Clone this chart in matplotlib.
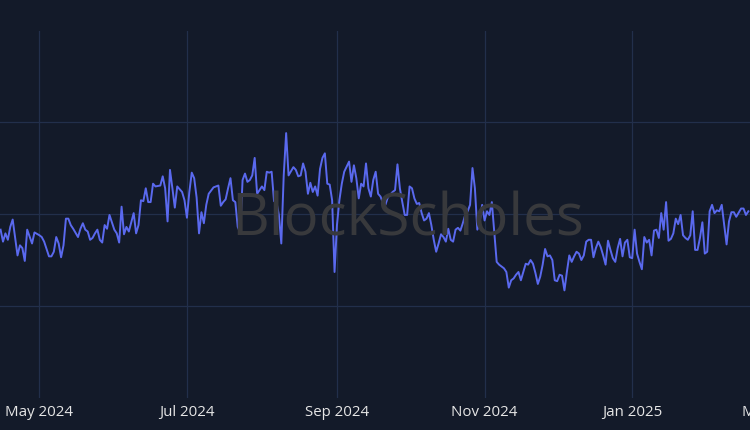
import numpy as np
import matplotlib
matplotlib.use("Agg")
import matplotlib.pyplot as plt
import matplotlib.dates as mdates

# daily series, days counted from start_date
start_date = np.datetime64("2024-04-15")

day_offset = [
    0, 1, 2, 3, 4, 5, 7, 8, 9, 10, 11, 13, 14, 16, 17, 18, 20, 21, 22, 23,
    24, 25, 26, 27, 28, 29, 30, 32, 33, 34, 35, 36, 37, 38, 39, 40, 41, 42, 43, 44,
    45, 47, 48, 49, 50, 51, 52, 53, 55, 56, 57, 58, 59, 60, 61,
    62, 63, 64, 66, 67, 68, 69, 70, 71, 72, 73, 75, 76, 77, 78, 79, 80, 81, 82, 83,
    84, 85, 86, 88, 89, 90, 91, 92, 93, 94, 95, 96, 97, 98, 99, 100, 101, 102, 103, 104,
    105, 106, 107, 108, 109, 110, 111, 112, 113, 114, 115, 116, 117, 118, 119, 121, 122, 123,
    124, 125, 126, 127, 128, 129, 130, 131, 132, 133, 134, 135, 136, 137, 138, 139, 140, 141,
    142, 144, 145, 146, 147, 148, 149, 150, 151, 152, 153, 154, 155, 156, 157, 158, 159, 160,
    162, 163, 164, 165, 166, 167, 168, 169, 170, 171, 172, 173, 174, 175, 176, 177, 178, 179,
    180, 181, 182, 183, 184, 185,
    186, 187, 188, 189, 190, 191, 192, 193, 194, 195, 196, 197, 198, 199, 200, 201, 202, 203,
    205, 206, 208, 209, 210, 211, 212, 213, 214, 215, 216, 217, 218, 219, 220, 221, 222, 223,
    224, 225, 226, 227, 228, 229, 230, 231, 232, 233, 234, 235, 236, 237, 238, 239, 240, 241,
    242, 243, 244, 245, 246, 247,
    248, 249, 250, 251, 252, 253, 254, 255, 256, 257, 258, 259, 260, 261, 262, 263, 264, 265,
    266, 267, 268, 269, 270, 271, 272, 273, 274, 275, 276, 277, 278, 279, 280, 281, 282, 283,
    284, 285, 286, 287, 288, 289, 290, 291, 292, 293, 294, 295, 296, 297, 298, 299, 300, 301,
    302, 303, 304, 306, 307, 308, 309,
]

value = [
    48.3, 47.0, 47.9, 47.2, 48.6, 49.4, 45.5, 46.6, 46.3, 44.9, 48.3, 46.8, 48.0, 47.7, 47.5, 47.0, 45.4, 45.4, 45.9, 47.5,
    46.8, 45.3, 46.6, 49.5, 49.5, 48.8, 48.4, 47.5, 48.4, 49.0, 48.3, 48.1, 47.2, 47.4, 47.9, 48.3, 47.2, 46.9, 48.8, 48.4,
    49.9, 48.3, 47.9, 46.9, 50.8, 47.8, 48.6, 48.1, 50.1, 47.9, 48.8, 51.5, 51.4, 52.8, 51.3,
    51.3, 53.3, 53.0, 53.1, 54.1, 52.8, 49.2, 54.8, 52.8, 50.7, 53.0, 52.4, 51.5, 49.6, 52.4, 54.5, 53.9, 51.8, 47.9, 50.2,
    49.0, 51.0, 52.2, 52.9, 53.0, 53.1, 50.9, 51.3, 51.6, 52.8, 53.9, 51.5, 51.3, 48.6, 48.0, 53.7, 54.4, 53.5, 53.7, 54.2,
    56.1, 52.2, 52.6, 53.0, 52.6, 54.6, 54.5, 54.6, 51.4, 51.3, 49.9, 46.8, 54.2, 58.8, 54.2, 55.1, 54.8, 54.1,
    54.2, 55.5, 54.6, 52.2, 53.4, 52.4, 53.0, 52.0, 54.9, 56.1, 56.6, 53.3, 53.2, 51.5, 43.7, 48.8, 51.5, 53.3,
    54.6, 55.7, 53.5, 55.3, 53.9, 51.7, 53.3, 53.0, 55.5, 52.8, 51.9, 53.7, 54.6, 52.2, 51.9, 51.2, 51.0, 51.8,
    52.4, 52.6, 55.4, 52.8, 51.3, 49.9, 49.9, 53.0, 52.8, 51.7, 51.1, 51.2, 50.1, 49.3, 49.5, 50.1, 48.8, 47.2,
    45.9, 46.8, 47.8, 47.5, 47.0, 48.4,
    47.2, 47.0, 48.3, 48.5, 48.2, 49.0, 49.9, 50.3, 51.0, 55.0, 52.8, 48.3, 49.2, 51.0, 49.3, 50.3, 49.9, 51.3,
    44.8, 44.5, 44.1, 43.7, 42.0, 42.8, 43.0, 43.4, 43.7, 42.8, 43.7, 44.6, 44.5, 45.0, 44.6, 43.6, 42.4, 43.2,
    44.5, 46.2, 45.4, 45.5, 45.0, 42.8, 42.7, 43.4, 43.3, 41.7, 43.7, 45.5, 44.8, 45.4, 45.9, 45.7, 45.0, 45.5,
    47.0, 47.2, 47.2, 45.3, 46.3, 47.0,
    46.4, 45.5, 44.5, 47.1, 46.1, 45.2, 44.8, 46.3, 47.3, 45.4, 46.9, 47.2, 45.3, 45.2, 48.3, 45.7, 44.8, 44.0,
    47.5, 46.9, 47.2, 45.5, 48.2, 48.3, 47.4, 50.1, 48.3, 51.3, 47.1, 47.3, 47.9, 49.5, 48.9, 49.9, 47.7, 47.4,
    47.2, 47.7, 50.3, 46.1, 46.1, 47.4, 49.1, 45.7, 45.9, 50.3, 51.0, 50.1, 50.4, 50.3, 51.0, 48.8, 46.7, 49.2,
    50.2, 50.2, 49.7, 50.6, 50.6, 49.9, 50.3,
]

y_grid = [40, 50, 60]

bg = "#131a29"
grid_col = "#222f4b"
line_col = "#5a69ee"

dates = start_date + np.array(day_offset).astype("timedelta64[D]")

fig = plt.figure(figsize=(7.5, 4.3), dpi=100, facecolor=bg)
# plot area is wider than the picture: the chart is a crop of a wider one
ax = fig.add_axes([0, 32 / 430, 825 / 750, 367 / 430])
ax.set_facecolor(bg)

# watermark sits under the line
fig.text(408 / 750, 1 - 236 / 430, "BlockScholes", fontsize=42, family="Open Sans",
         color="#38393c", ha="center", va="baseline", zorder=0)
ax.patch.set_alpha(0)

ax.plot(dates, value, color=line_col, linewidth=1.4, zorder=3)

x0 = mdates.date2num(start_date) - 0.24
ax.set_xlim(x0, x0 + 825 / 2.42)
ax.set_ylim(30, 69.9)

ax.xaxis.set_major_locator(mdates.MonthLocator(bymonth=[1, 3, 5, 7, 9, 11]))
ax.xaxis.set_major_formatter(mdates.DateFormatter("%b %Y"))
ax.set_yticks(y_grid)
ax.set_yticklabels([])

ax.grid(True, color=grid_col, linewidth=0.9)
ax.set_axisbelow(True)
for s in ax.spines.values():
    s.set_visible(False)
ax.tick_params(axis="both", length=0)
ax.tick_params(axis="x", colors="#e6e6e6", labelsize=10.8, pad=5)
for lab in ax.get_xticklabels():
    lab.set_family("Open Sans")

fig.savefig("out.png", dpi=100, facecolor=bg)
